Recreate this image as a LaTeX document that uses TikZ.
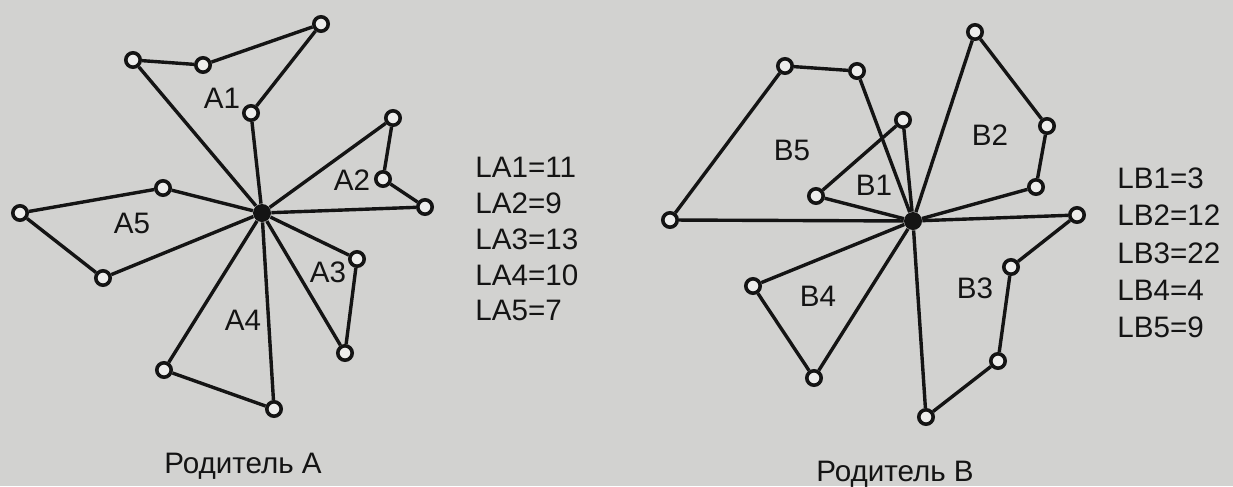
\documentclass[tikz,border=0pt]{standalone}
\usepackage{fontspec}
\setmainfont{Liberation Sans}
\usepackage{tikz}
\usetikzlibrary{positioning}
\definecolor{paper}{RGB}{210,210,208}
\definecolor{ink}{RGB}{20,20,20}
\tikzset{
    client/.style={
        circle, draw=ink, line width=1.8pt,
        minimum size=7.2pt, inner sep=0pt,
        fill=paper!40!white
    },
    depot/.style={
        circle, fill=ink,
        minimum size=9pt, inner sep=0pt
    },
    route/.style={
        draw=ink, line width=1.7pt
    },
    lbl/.style={
        font=\fontsize{14.8}{17}\selectfont,
        text=ink, inner sep=0pt, anchor=base
    },
    listtext/.style={
        lbl, anchor=base west
    }
}
\begin{document}
\begin{tikzpicture}[
    x=0.5pt, y=-0.5pt
]

\fill[paper] (0,0) rectangle (1233,486);

\node[depot] (da) at (262,213) {};

\node[client] (a11) at (251,113) {};
\node[client] (a12) at (321,24) {};
\node[client] (a13) at (203,65) {};
\node[client] (a14) at (133,60) {};

\node[client] (a21) at (393,118) {};
\node[client] (a22) at (383,179) {};
\node[client] (a23) at (425,207) {};

\node[client] (a31) at (357,259) {};
\node[client] (a32) at (345,353) {};

\node[client] (a41) at (164,370) {};
\node[client] (a42) at (274,409) {};

\node[client] (a51) at (163,188) {};
\node[client] (a52) at (20,213) {};
\node[client] (a53) at (103,278) {};

\draw[route] (da) -- (a11) -- (a12) -- (a13) -- (a14) -- (da);
\draw[route] (da) -- (a21) -- (a22) -- (a23) -- (da);
\draw[route] (da) -- (a31) -- (a32) -- (da);
\draw[route] (da) -- (a41) -- (a42) -- (da);
\draw[route] (da) -- (a51) -- (a52) -- (a53) -- (da);

\node[lbl] (ta1) at (222,108) {A1};
\node[lbl] (ta2) at (352,190) {A2};
\node[lbl] (ta3) at (328,282) {A3};
\node[lbl] (ta4) at (243,330) {A4};
\node[lbl] (ta5) at (132,233) {A5};

\node[listtext] (la1) at (475,177) {LA1=11};
\node[listtext] (la2) at (475,213) {LA2=9};
\node[listtext] (la3) at (475,249) {LA3=13};
\node[listtext] (la4) at (475,285) {LA4=10};
\node[listtext] (la5) at (475,320) {LA5=7};

\node[lbl] (capa) at (243,473) {Родитель А};

\node[depot] (db) at (913,221) {};

\node[client] (b11) at (903,120) {};
\node[client] (b12) at (816,196) {};

\node[client] (b21) at (975,32) {};
\node[client] (b22) at (1047,126) {};
\node[client] (b23) at (1036,187) {};

\node[client] (b31) at (1077,215) {};
\node[client] (b32) at (1011,267) {};
\node[client] (b33) at (998,361) {};
\node[client] (b34) at (926,417) {};

\node[client] (b41) at (753,286) {};
\node[client] (b42) at (814,378) {};

\node[client] (b51) at (857,71) {};
\node[client] (b52) at (785,66) {};
\node[client] (b53) at (670,220) {};

\draw[route] (db) -- (b11) -- (b12) -- (db);
\draw[route] (db) -- (b21) -- (b22) -- (b23) -- (db);
\draw[route] (db) -- (b31) -- (b32) -- (b33) -- (b34) -- (db);
\draw[route] (db) -- (b41) -- (b42) -- (db);
\draw[route] (db) -- (b51) -- (b52) -- (b53) -- (db);

\node[lbl] (tb1) at (874,195) {B1};
\node[lbl] (tb2) at (990,145) {B2};
\node[lbl] (tb3) at (975,298) {B3};
\node[lbl] (tb4) at (818,306) {B4};
\node[lbl] (tb5) at (792,160) {B5};

\node[listtext] (lb1) at (1117,188) {LB1=3};
\node[listtext] (lb2) at (1117,225) {LB2=12};
\node[listtext] (lb3) at (1117,263) {LB3=22};
\node[listtext] (lb4) at (1117,300) {LB4=4};
\node[listtext] (lb5) at (1117,337) {LB5=9};

\node[lbl] (capb) at (895,481) {Родитель В};

\end{tikzpicture}
\end{document}
